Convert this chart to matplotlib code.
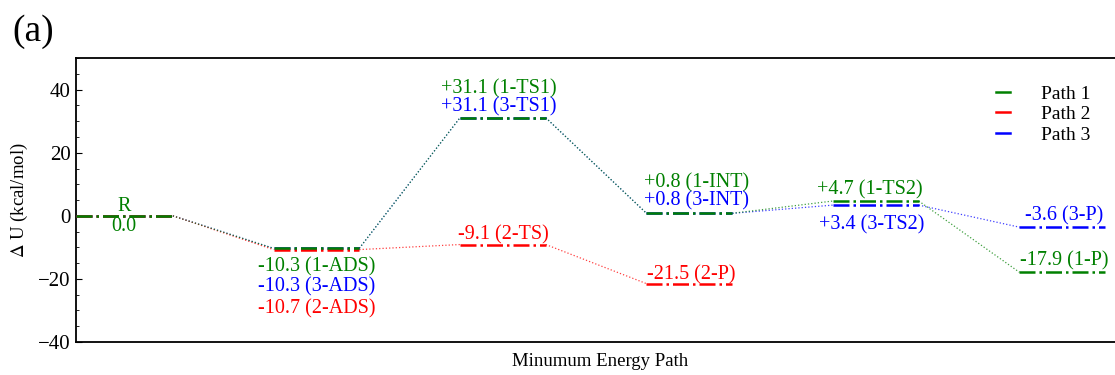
import matplotlib.pyplot as plt
from matplotlib.ticker import MultipleLocator
from matplotlib.lines import Line2D

plt.rcParams['font.family'] = ['Liberation Serif', 'DejaVu Serif']
plt.rcParams['mathtext.fontset'] = 'stix'

# energies (kcal/mol) along each path, one value per stage
stages = ['R', 'ADS', 'TS1', 'INT', 'TS2', 'P']
path1 = [0.0, -10.3, 31.1, 0.8, 4.7, -17.9]
path2 = [0.0, -10.7, -9.1, -21.5]
path3 = [0.0, -10.3, 31.1, 0.8, 3.4, -3.6]
path_names = ['Path 1', 'Path 2', 'Path 3']
path_colors = ['green', 'red', 'blue']

labels1 = ['R', '1-ADS', '1-TS1', '1-INT', '1-TS2', '1-P']
labels2 = ['R', '2-ADS', '2-TS', '2-P']
labels3 = ['R', '3-ADS', '3-TS1', '3-INT', '3-TS2', '3-P']

fig = plt.figure(figsize=(11.15, 3.75), dpi=100)
ax = fig.add_axes([0.068, 0.088, 0.94, 0.757])

hw = 0.23
x_left = -0.29


def level_span(i):
    if i == 0:
        return x_left, hw
    return i - hw, i + hw


def draw_path(vals, color):
    for i, v in enumerate(vals):
        a, b = level_span(i)
        ax.plot([a, b], [v, v], color=color, lw=1.8, ls='-.', zorder=3)
        if i > 0:
            ax.plot([i - 1 + hw, i - hw], [vals[i - 1], v], color=color,
                    lw=0.9, ls=':', alpha=0.75, zorder=2)


draw_path(path3, 'blue')
draw_path(path2, 'red')
draw_path(path1, 'green')


def fmt(v):
    return ('+%.1f' % v) if v > 0 else ('%.1f' % v)


def put(x, y, text, color, dy):
    ax.annotate(text, (x, y), xytext=(0, dy), textcoords='offset points',
                ha='center', va='center', color=color, fontsize=14.5)


# R
rc = (x_left + hw) / 2
put(rc, path1[0], 'R', 'green', 7)
put(rc, path1[0], fmt(path1[0]), 'green', -8)
# ADS, labels stacked below
put(1, path1[1], '%s (%s)' % (fmt(path1[1]), labels1[1]), 'green', -13)
put(1, path3[1], '%s (%s)' % (fmt(path3[1]), labels3[1]), 'blue', -28)
put(1, path2[1], '%s (%s)' % (fmt(path2[1]), labels2[1]), 'red', -43)
# TS1
put(1.98, path1[2], '%s (%s)' % (fmt(path1[2]), labels1[2]), 'green', 21)
put(1.98, path3[2], '%s (%s)' % (fmt(path3[2]), labels3[2]), 'blue', 7.5)
put(2.0, path2[2], '%s (%s)' % (fmt(path2[2]), labels2[2]), 'red', 7)
# INT
put(3.04, path1[3], '%s (%s)' % (fmt(path1[3]), labels1[3]), 'green', 22)
put(3.04, path3[3], '%s (%s)' % (fmt(path3[3]), labels3[3]), 'blue', 9)
put(3.01, path2[3], '%s (%s)' % (fmt(path2[3]), labels2[3]), 'red', 6.5)
# TS2
put(3.97, path1[4], '%s (%s)' % (fmt(path1[4]), labels1[4]), 'green', 8)
put(3.98, path3[4], '%s (%s)' % (fmt(path3[4]), labels3[4]), 'blue', -14)
# P
put(5.01, path3[5], '%s (%s)' % (fmt(path3[5]), labels3[5]), 'blue', 8)
put(5.01, path1[5], '%s (%s)' % (fmt(path1[5]), labels1[5]), 'green', 8)

ax.set_xlim(x_left, 5.33)
ax.set_ylim(-40, 50)
ax.set_xticks([])
ax.yaxis.set_major_locator(MultipleLocator(20))
ax.yaxis.set_minor_locator(MultipleLocator(5))
ax.tick_params(axis='y', which='both', direction='in', labelsize=15)
ax.tick_params(axis='y', which='major', length=4)
ax.tick_params(axis='y', which='minor', length=2)
ax.spines['right'].set_visible(False)
for s in ['left', 'top', 'bottom']:
    ax.spines[s].set_linewidth(1.3)

ax.set_ylabel(r'$\Delta$ U (kcal/mol)', fontsize=13.5, labelpad=6)
ax.set_xlabel('Minumum Energy Path', fontsize=13.5, labelpad=8)

handles = [Line2D([], [], color=c, lw=1.8) for c in path_colors]
ax.legend(handles, path_names, loc='upper right', frameon=False, fontsize=14,
          handlelength=0.7, handletextpad=1.6, labelspacing=0.15,
          borderpad=0, borderaxespad=0, bbox_to_anchor=(0.968, 0.905))

fig.text(0.011, 0.89, '(a)', fontsize=27)

fig.savefig('out.png', dpi=100)
